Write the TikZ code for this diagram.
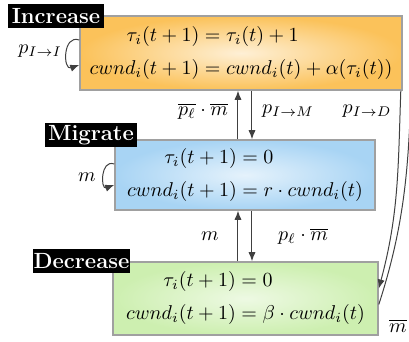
\documentclass[tikz,border=0pt]{standalone}
\usepackage{amsmath}
\usetikzlibrary{arrows.meta}
\definecolor{incC}{HTML}{FBC25A}
\definecolor{migC}{HTML}{A8D4F4}
\definecolor{decC}{HTML}{CDEFB0}
\definecolor{boxgray}{HTML}{A0A0A0}
\definecolor{linegray}{HTML}{404040}
\begin{document}
\begin{tikzpicture}[x=0.5pt,y=-0.5pt,
  font=\fontsize{10.3}{12}\selectfont,
  statebox/.style={draw=boxgray, line width=0.8pt, inner sep=0pt},
  tag/.style={fill=black, text=white, font=\fontsize{11}{12}\selectfont\bfseries, inner sep=0pt, minimum height=12pt},
  conn/.style={draw=linegray, line width=0.5pt, -{Latex[length=4.5pt,width=3.6pt]}},
  plain/.style={draw=linegray, line width=0.5pt},
  lbl/.style={inner sep=1pt}]
\clip (0,0) rectangle (409,342);
% boxes
\node[statebox, minimum width=161pt, minimum height=37pt, inner color=incC!25!white, outer color=incC] (inc) at (241,53)
  {$\begin{aligned}\tau_i(t+1) &= \tau_i(t)+1\\[1.5pt] cwnd_i(t+1) &= cwnd_i(t)+\alpha(\tau_i(t))\end{aligned}$};
\node[statebox, minimum width=130pt, minimum height=35pt, inner color=migC!30!white, outer color=migC] (mig) at (245,175)
  {$\begin{aligned}\tau_i(t+1) &= 0\\[1.5pt] cwnd_i(t+1) &= r\cdot cwnd_i(t)\end{aligned}$};
\node[statebox, minimum width=132.5pt, minimum height=36.5pt, inner color=decC!35!white, outer color=decC] (dec) at (245.5,298.5)
  {$\begin{aligned}\tau_i(t+1) &= 0\\[1.5pt] cwnd_i(t+1) &= \beta\cdot cwnd_i(t)\end{aligned}$};
% tags
\node[tag, minimum width=48pt] (tinc) at (56,16.5) {Increase};
\node[tag, minimum width=46pt] (tmig) at (91,135.5) {Migrate};
\node[tag, minimum width=48.5pt] (tdec) at (81.5,261.5) {Decrease};
% vertical arrows
\draw[conn] ([xshift=-3.5pt]mig.north) -- ([xshift=-3.5pt]mig.north |- inc.south);
\draw[conn] ([xshift=3.5pt]mig.north |- inc.south) -- ([xshift=3.5pt]mig.north);
\draw[conn] ([xshift=-3.5pt]mig.north |- dec.north) -- ([xshift=-3.5pt]mig.south);
\draw[conn] ([xshift=3.5pt]mig.south) -- ([xshift=3.5pt]mig.north |- dec.north);
% self loops
\draw[conn] ([yshift=6.5pt]inc.west) to[out=160,in=200,looseness=1.8] ([yshift=-6pt]inc.west);
\draw[conn] ([yshift=5.5pt]mig.west) to[out=160,in=200,looseness=1.8] ([yshift=-5pt]mig.west);
% right side
\coordinate (offr) at (414,20);
\draw[conn] ([xshift=-1pt]inc.south east) to[out=-92,in=75] ([yshift=5pt]dec.east);
\draw[plain] ([yshift=-3pt]dec.east) to[out=72,in=-93] (offr);
% labels
\node[lbl] (l1) at (203,111) {$\overline{p_\ell}\cdot\overline{m}$};
\node[lbl] (l2) at (288,111) {$p_{I\to M}$};
\node[lbl] (l3) at (367,111) {$p_{I\to D}$};
\node[lbl] (l4) at (210,236) {$m$};
\node[lbl] (l5) at (303,236) {$p_\ell\cdot\overline{m}$};
\node[lbl] (l6) at (40,51) {$p_{I\to I}$};
\node[lbl] (l7) at (87,177) {$m$};
\node[lbl] (l8) at (398,326) {$\overline{m}$};
\end{tikzpicture}
\end{document}
